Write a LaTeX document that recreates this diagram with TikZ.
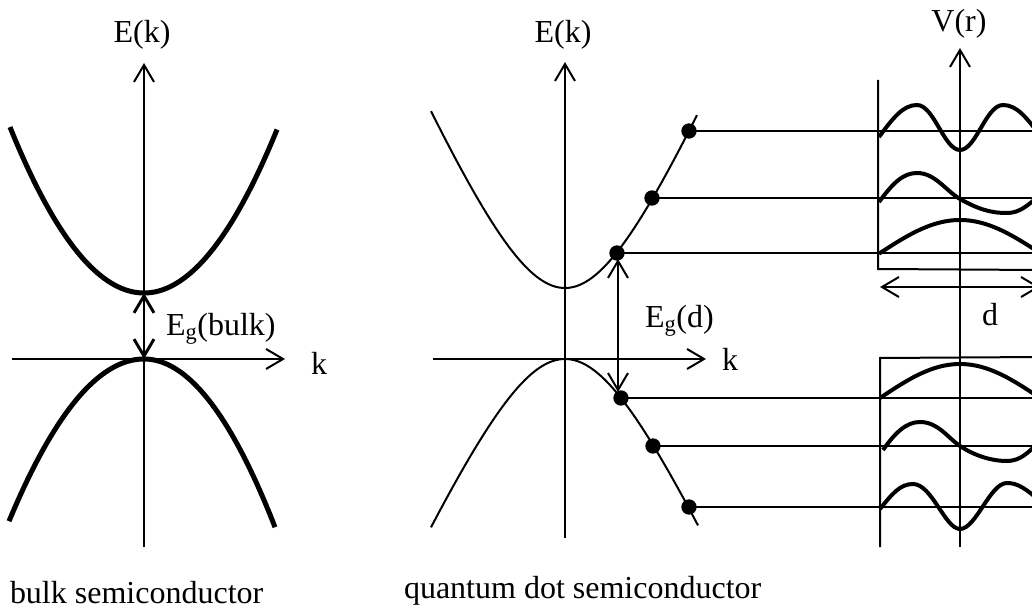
\documentclass[tikz,border=0pt]{standalone}
\usepackage{fontspec}
\setmainfont{Liberation Serif}
\usetikzlibrary{arrows.meta}
\begin{document}
\begin{tikzpicture}[x=0.75pt,y=-0.75pt,
  every node/.style={font=\fontsize{24pt}{28pt}\selectfont, inner sep=0pt, outer sep=0pt},
  barb/.tip={Straight Barb[length=12.75pt,width=15pt]},
  axisline/.style={line width=1.5pt, -barb},
  thinline/.style={line width=1.5pt},
  bandthick/.style={line width=3.75pt},
  bandthin/.style={line width=1.5pt},
  wave/.style={line width=3pt},
  gaparrow/.style={line width=1.5pt, barb-barb},
  dotnode/.style={circle, fill=black, minimum size=11.5pt, inner sep=0pt}]
\clip (0,0) rectangle (1032,613);

% ---------------- bulk semiconductor ----------------
\coordinate (lyb) at (144,547);
\coordinate (lyt) at (144,63);
\coordinate (lxl) at (12,359);
\coordinate (lxr) at (285,359);
\draw[axisline] (lyb) -- (lyt);
\draw[axisline] (lxl) -- (lxr);
\node[anchor=base] (lEk) at (142,43) {E(k)};
\node[anchor=base west] (lk) at (311,374) {k};

\draw[bandthick] plot[domain=10:277, samples=80] (\x, {293-0.924*((\x-144)/10)^2});
\draw[bandthick] plot[domain=9:144, samples=50] (\x, {359+0.89*((\x-144)/10)^2});
\draw[bandthick] plot[domain=144:275, samples=50] (\x, {359+0.98*((\x-144)/10)^2});

\coordinate (cbmin) at (144,293);
\coordinate (vbmax) at (144,359);
\draw[gaparrow, line width=2.2pt] (cbmin) -- (vbmax);
\node[anchor=base west] (lEg) at (166,335) {E\textsubscript{g}(bulk)};
\node[anchor=base west] (lcap) at (10,603) {bulk semiconductor};

% ---------------- quantum dot semiconductor ----------------
\coordinate (myb) at (565,538);
\coordinate (myt) at (565,62);
\coordinate (mxl) at (433,359);
\coordinate (mxr) at (706,359);
\draw[axisline] (myb) -- (myt);
\draw[axisline] (mxl) -- (mxr);
\node[anchor=base] (mEk) at (563,43) {E(k)};
\node[anchor=base west] (mk) at (722,370) {k};

\draw[bandthin] plot[domain=431:697, samples=100] (\x, {288-186*(sqrt(1+((\x-565)/80)^2)-1)});
\draw[bandthin] plot[domain=431:698, samples=100] (\x, {359+177*(sqrt(1+((\x-565)/80)^2)-1)});

% levels
\node[dotnode] (c1) at (617,253) {};
\node[dotnode] (c2) at (652,198) {};
\node[dotnode] (c3) at (689,131) {};
\node[dotnode] (v1) at (621,398) {};
\node[dotnode] (v2) at (653,446) {};
\node[dotnode] (v3) at (689,507) {};
\coordinate (e1) at (1040,253);
\coordinate (e2) at (1040,198);
\coordinate (e3) at (1040,131);
\coordinate (f1) at (1040,398);
\coordinate (f2) at (1040,446);
\coordinate (f3) at (1040,507);
\draw[thinline] (c1.center) -- (e1);
\draw[thinline] (c2.center) -- (e2);
\draw[thinline] (c3.center) -- (e3);
\draw[thinline] (v1.center) -- (f1);
\draw[thinline] (v2.center) -- (f2);
\draw[thinline] (v3.center) -- (f3);

\coordinate (ga) at (618,259);
\coordinate (gb) at (618,392);
\draw[gaparrow] (ga) -- (gb);
\node[anchor=base west] (mEg) at (645,327) {E\textsubscript{g}(d)};
\node[anchor=base west] (mcap) at (404,598) {quantum dot semiconductor};

% ---------------- potential wells ----------------
\coordinate (vyb) at (960,547);
\coordinate (vyt) at (960,48);
\draw[axisline] (vyb) -- (vyt);
\node[anchor=base] (Vr) at (959,32) {V(r)};

\coordinate (uwt) at (878,80);
\coordinate (uwb) at (878,269);
\coordinate (uwr) at (1040,270);
\draw[thinline] (uwt) -- (uwb) -- (uwr);

\coordinate (lwb) at (880,547);
\coordinate (lwt) at (880,358);
\coordinate (lwr) at (1040,357);
\draw[thinline] (lwb) -- (lwt) -- (lwr);

\coordinate (dl) at (880,287);
\coordinate (dr) at (1040,287);
\draw[gaparrow] (dl) -- (dr);
\node[anchor=base west] (dlab) at (982,325) {d};

% upper wavefunctions
\draw[wave] plot[domain=879:1040, samples=60] (\x, {253-33*cos(180*(\x-960)/160)});
\draw[wave] (879,202) .. controls (893,183) and (903,173) .. (917,173)
  .. controls (935,173) and (945,190) .. (960,199)
  .. controls (978,209) and (990,213) .. (1007,213)
  .. controls (1020,213) and (1028,205) .. (1040,195);
\draw[wave] (879,137) .. controls (893,118) and (903,105) .. (917,105)
  .. controls (934,105) and (944,150) .. (960,150)
  .. controls (976,150) and (986,105) .. (1003,105)
  .. controls (1017,105) and (1027,118) .. (1041,137);

% lower wavefunctions
\draw[wave] plot[domain=880:1040, samples=60] (\x, {398-34*cos(180*(\x-960)/160)});
\draw[wave] (883,450) .. controls (895,433) and (906,422) .. (920,422)
  .. controls (938,422) and (948,438) .. (960,446)
  .. controls (975,456) and (992,461) .. (1007,461)
  .. controls (1020,461) and (1028,453) .. (1040,441);
\draw[wave] (880,509) .. controls (892,494) and (900,484) .. (913,484)
  .. controls (932,484) and (945,529) .. (960,529)
  .. controls (976,529) and (990,483) .. (1007,483)
  .. controls (1018,483) and (1026,489) .. (1040,501);
\end{tikzpicture}
\end{document}
